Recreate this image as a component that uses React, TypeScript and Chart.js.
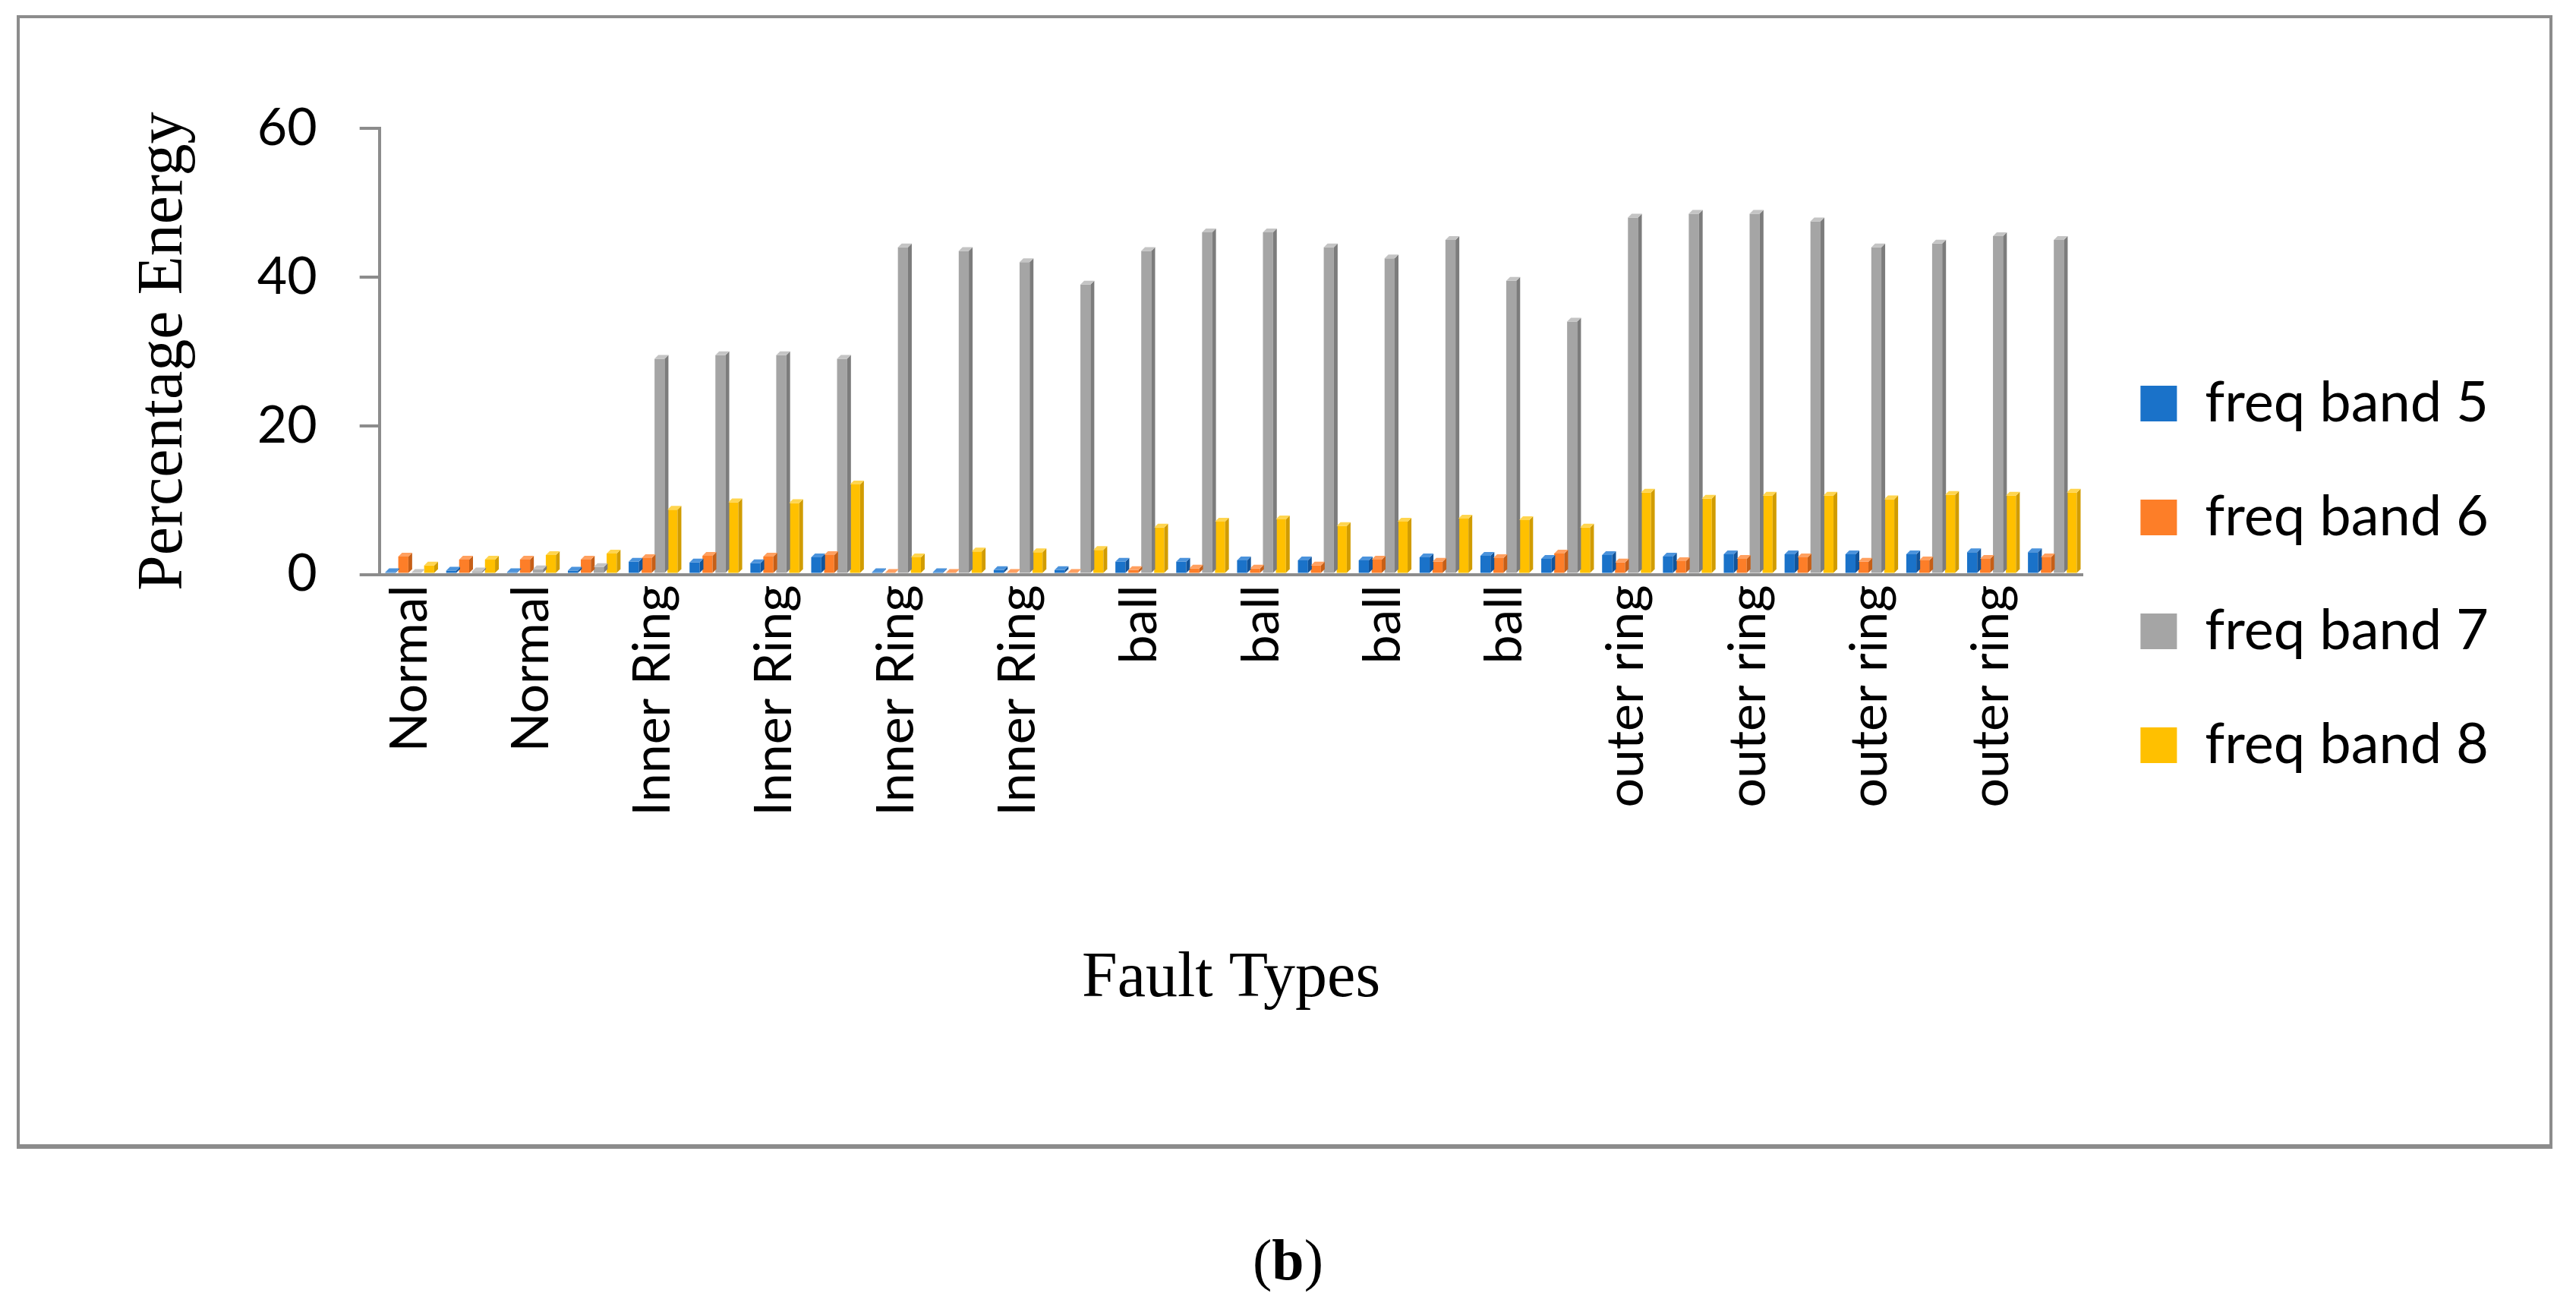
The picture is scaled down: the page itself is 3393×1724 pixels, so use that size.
import React, { useEffect, useRef } from 'react';
import { Chart, registerables } from 'chart.js';

Chart.register(...registerables);

// 28 samples, Excel shows only every other category label
const FAULT_TYPES = [
  'Normal', 'Normal', 'Normal', 'Normal',
  'Inner Ring', 'Inner Ring', 'Inner Ring', 'Inner Ring',
  'Inner Ring', 'Inner Ring', 'Inner Ring', 'Inner Ring',
  'ball', 'ball', 'ball', 'ball', 'ball', 'ball', 'ball', 'ball',
  'outer ring', 'outer ring', 'outer ring', 'outer ring',
  'outer ring', 'outer ring', 'outer ring', 'outer ring',
];

const BAND_5 = [
  0.3, 0.5, 0.3, 0.5, 1.7, 1.6, 1.5, 2.3,
  0.3, 0.3, 0.6, 0.6, 1.7, 1.7, 1.9, 1.9,
  1.9, 2.3, 2.5, 2.1, 2.6, 2.4, 2.7, 2.7,
  2.7, 2.7, 3.0, 3.0,
];

const BAND_6 = [
  2.4, 2.0, 2.0, 2.0, 2.2, 2.5, 2.4, 2.6,
  0.2, 0.2, 0.2, 0.2, 0.6, 0.8, 0.8, 1.2,
  2.0, 1.7, 2.2, 2.8, 1.6, 1.8, 2.1, 2.3,
  1.7, 1.9, 2.1, 2.3,
];

const BAND_7 = [
  0.2, 0.4, 0.7, 1.0, 29, 29.5, 29.5, 29,
  44, 43.5, 42, 39, 43.5, 46, 46, 44,
  42.5, 45, 39.5, 34, 48, 48.5, 48.5, 47.5,
  44, 44.5, 45.5, 45,
];

const BAND_8 = [
  1.2, 2.0, 2.6, 2.8, 8.7, 9.7, 9.6, 12.1,
  2.3, 3.1, 3.0, 3.3, 6.3, 7.1, 7.4, 6.5,
  7.1, 7.5, 7.3, 6.3, 11, 10.2, 10.6, 10.6,
  10.1, 10.7, 10.6, 11,
];

const SERIES = [
  { label: 'freq band 5', data: BAND_5, color: '#1a72c9', side: '#12549a', top: '#4b93dc' },
  { label: 'freq band 6', data: BAND_6, color: '#fd7e28', side: '#c65f17', top: '#ffa060' },
  { label: 'freq band 7', data: BAND_7, color: '#a5a5a5', side: '#7c7c7c', top: '#c4c4c4' },
  { label: 'freq band 8', data: BAND_8, color: '#ffc000', side: '#d19c00', top: '#ffd54f' },
];

const Y_TICKS = [0, 20, 40, 60];

const AXIS_GREY = '#8c8c8c';
const SANS = 'Lato';
const SERIF = 'Liberation Serif';

// gives the flat bars the side and top faces of Excel's 3-D columns
const boxFaces = {
  id: 'boxFaces',
  afterDatasetsDraw(chart: any) {
    const ctx = chart.ctx;
    const d = 5;
    chart.data.datasets.forEach((_ds: any, i: number) => {
      const meta = chart.getDatasetMeta(i);
      const s = SERIES[i];
      meta.data.forEach((bar: any) => {
        const { x, y, base, width } = bar.getProps(['x', 'y', 'base', 'width'], true);
        const l = x - width / 2;
        const r = x + width / 2;
        ctx.save();
        ctx.fillStyle = s.side;
        ctx.beginPath();
        ctx.moveTo(r, y);
        ctx.lineTo(r + d, y - d);
        ctx.lineTo(r + d, base - d);
        ctx.lineTo(r, base);
        ctx.closePath();
        ctx.fill();
        ctx.fillStyle = s.top;
        ctx.beginPath();
        ctx.moveTo(l, y);
        ctx.lineTo(l + d, y - d);
        ctx.lineTo(r + d, y - d);
        ctx.lineTo(r, y);
        ctx.closePath();
        ctx.fill();
        ctx.restore();
      });
    });
  },
};

const EnergyChart = () => {
  const canvasRef = useRef<HTMLCanvasElement>(null);
  const chartRef = useRef<Chart | null>(null);

  useEffect(() => {
    document.body.style.margin = '0';
    if (!canvasRef.current) return;
    if (chartRef.current) chartRef.current.destroy();

    chartRef.current = new Chart(canvasRef.current, {
      type: 'bar',
      data: {
        labels: FAULT_TYPES,
        datasets: SERIES.map(s => ({
          label: s.label,
          data: s.data,
          backgroundColor: s.color,
          borderWidth: 0,
          categoryPercentage: 0.85,
          barPercentage: 0.78,
        })),
      },
      options: {
        animation: false,
        responsive: false,
        devicePixelRatio: 1,
        layout: { padding: { top: 169, bottom: 380, left: 124, right: 105 } },
        plugins: {
          tooltip: { enabled: false },
          legend: {
            position: 'right',
            labels: {
              boxWidth: 48,
              boxHeight: 47,
              padding: 76,
              color: '#000',
              font: { family: SANS, size: 74 },
            },
          },
        },
        scales: {
          y: {
            min: 0,
            max: 60,
            afterBuildTicks: (axis: any) => {
              axis.ticks = Y_TICKS.map(v => ({ value: v }));
            },
            border: { display: true, color: AXIS_GREY, width: 4 },
            grid: { drawOnChartArea: false, color: AXIS_GREY, lineWidth: 4, tickLength: 26 },
            ticks: { color: '#000', padding: 56, font: { family: SANS, size: 68 } },
            title: {
              display: true,
              text: 'Percentage Energy',
              color: '#000',
              font: { family: SERIF, size: 84 },
              padding: { top: 43, bottom: 15 },
            },
          },
          x: {
            border: { display: true, color: AXIS_GREY, width: 4 },
            grid: { display: false, drawTicks: false },
            ticks: {
              autoSkip: false,
              maxRotation: 90,
              minRotation: 90,
              padding: 14,
              color: '#000',
              font: { family: SANS, size: 68 },
              callback: (_v: any, i: number) => (i % 2 === 0 ? FAULT_TYPES[i] : ''),
            },
            title: {
              display: true,
              text: 'Fault Types',
              color: '#000',
              font: { family: SERIF, size: 84 },
              padding: { top: 180, bottom: 4 },
            },
          },
        },
      },
      plugins: [boxFaces],
    });

    return () => {
      if (chartRef.current) chartRef.current.destroy();
      chartRef.current = null;
    };
  }, []);

  return (
    <canvas
      ref={canvasRef}
      width={3393}
      height={1724}
      style={{ position: 'absolute', left: 0, top: 0, width: 3393, height: 1724 }}
    />
  );
};

export default function App() {
  return (
    <div style={{ position: 'fixed', left: 0, top: 0, width: 3393, height: 1724, background: '#fff', overflow: 'hidden' }}>
      <div
        style={{
          position: 'absolute',
          left: 22,
          top: 20,
          width: 3340,
          height: 1493,
          boxSizing: 'border-box',
          border: `4px solid ${AXIS_GREY}`,
          borderBottomWidth: 6,
        }}
      />
      <EnergyChart />
      <div
        style={{
          position: 'absolute',
          left: 0,
          width: 3393,
          top: 1614,
          textAlign: 'center',
          fontFamily: SERIF,
          fontSize: 76,
          lineHeight: 1.2,
          color: '#000',
        }}
      >
        (<b>b</b>)
      </div>
    </div>
  );
}
